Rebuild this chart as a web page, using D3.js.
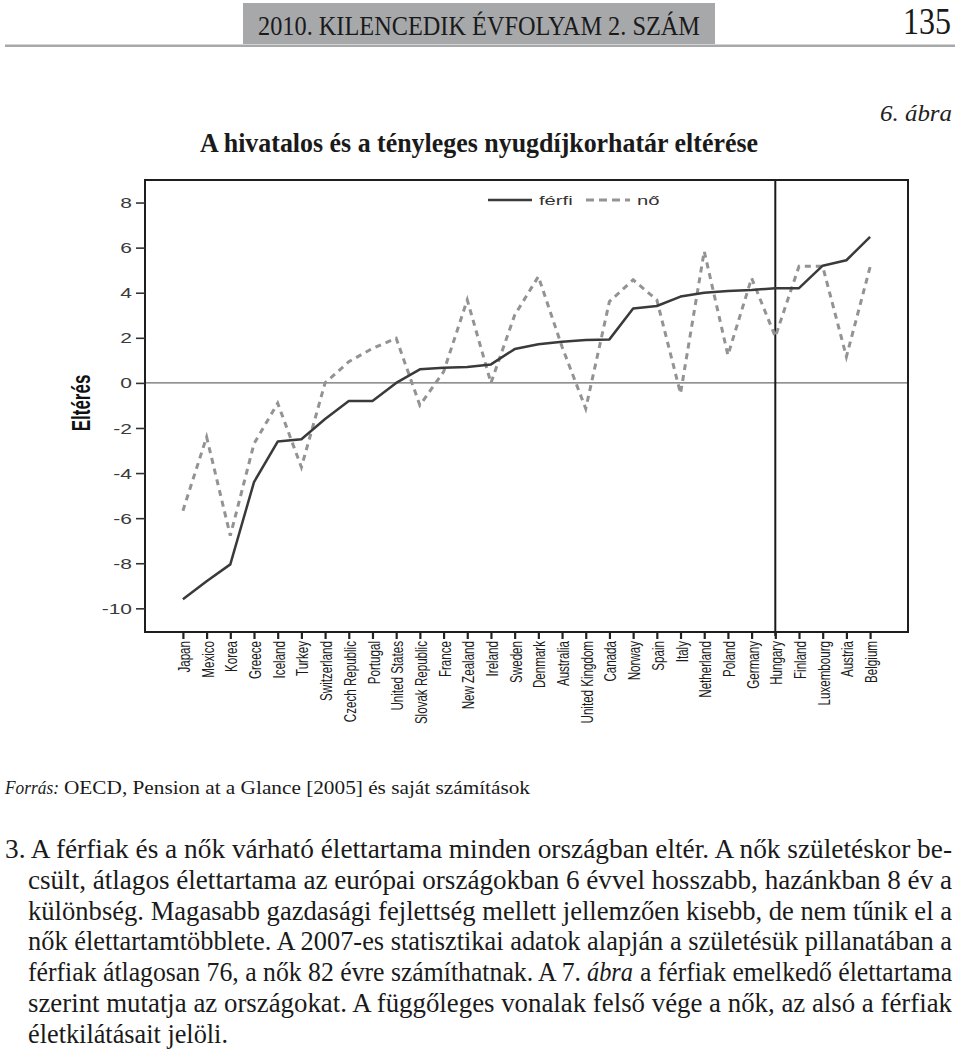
<!DOCTYPE html>
<html>
<head>
<meta charset="utf-8">
<script src="https://cdn.jsdelivr.net/npm/d3@7/dist/d3.min.js"></script>
<style>
html,body{margin:0;padding:0;background:#fff;}
svg{display:block;}
.serif{font-family:"Liberation Serif","Times New Roman",Times,serif;}
.sans{font-family:"Liberation Sans",Arial,Helvetica,sans-serif;}
</style>
</head>
<body>
<svg id="page" width="960" height="1049"></svg>
<script>
// ---- data ----
const countries = ["Japan","Mexico","Korea","Greece","Iceland","Turkey","Switzerland","Czech Republic","Portugal","United States","Slovak Republic","France","New Zealand","Ireland","Sweden","Denmark","Australia","United Kingdom","Canada","Norway","Spain","Italy","Netherland","Poland","Germany","Hungary","Finland","Luxembourg","Austria","Belgium"];
const ferfi = [-9.6,-8.8,-8.05,-4.4,-2.6,-2.5,-1.6,-0.8,-0.8,0.0,0.6,0.67,0.7,0.82,1.5,1.71,1.83,1.9,1.93,3.3,3.41,3.83,4.0,4.08,4.12,4.2,4.2,5.2,5.44,6.48];
const no = [-5.67,-2.4,-6.78,-2.7,-0.9,-3.74,0.0,0.94,1.53,1.98,-0.99,0.49,3.68,0.0,3.0,4.72,1.6,-1.14,3.61,4.57,3.68,-0.47,5.84,1.23,4.65,2.05,5.17,5.17,1.16,5.14];
const yTicks = [-10,-8,-6,-4,-2,0,2,4,6,8];
const seriesNames = ["férfi","nő"];
const highlight = "Hungary";
const headerText = "2010. KILENCEDIK ÉVFOLYAM 2. SZÁM";
const pageNumber = "135";
const figureLabel = "6. ábra";
const chartTitle = "A hivatalos és a tényleges nyugdíjkorhatár eltérése";
const yAxisLabel = "Eltérés";
const sourceItalic = "Forrás:";
const sourceText = "OECD, Pension at a Glance [2005] és saját számítások";
const paragraph = [
  "3. A férfiak és a nők várható élettartama minden országban eltér. A nők születéskor be-",
  "csült, átlagos élettartama az európai országokban 6 évvel hosszabb, hazánkban 8 év a",
  "különbség. Magasabb gazdasági fejlettség mellett jellemzően kisebb, de nem tűnik el a",
  "nők élettartamtöbblete. A 2007-es statisztikai adatok alapján a születésük pillanatában a",
  ["férfiak átlagosan 76, a nők 82 évre számíthatnak. A 7.", "ábra", "a férfiak emelkedő élettartama"],
  "szerint mutatja az országokat. A függőleges vonalak felső vége a nők, az alsó a férfiak",
  "életkilátásait jelöli."
];

const svg = d3.select("#page");

// ---- page header ----
svg.append("rect").attr("x",243).attr("y",3).attr("width",472).attr("height",41).attr("fill","#a7a8aa");
svg.append("rect").attr("x",5).attr("y",44.5).attr("width",950).attr("height",2.5).attr("fill","#a7a8aa");
svg.append("text").attr("class","serif").attr("x",258).attr("y",35).attr("font-size",28)
  .attr("textLength",442).attr("lengthAdjust","spacingAndGlyphs").attr("fill","#1a1a1a").text(headerText);
svg.append("text").attr("class","serif").attr("x",903).attr("y",34).attr("font-size",37)
  .attr("textLength",48).attr("lengthAdjust","spacingAndGlyphs").attr("fill","#1a1a1a").text(pageNumber);

svg.append("text").attr("class","serif").attr("x",952).attr("y",121).attr("text-anchor","end")
  .attr("font-style","italic").attr("font-size",24).attr("textLength",72).attr("lengthAdjust","spacingAndGlyphs")
  .attr("fill","#222").text(figureLabel);
svg.append("text").attr("class","serif").attr("x",200).attr("y",152).attr("font-weight","bold")
  .attr("font-size",27).attr("textLength",558).attr("lengthAdjust","spacingAndGlyphs").attr("fill","#1a1a1a").text(chartTitle);

// ---- chart ----
const L = 145, R = 908, T = 180, B = 632;
const x = d3.scalePoint().domain(countries).range([L, R]).padding(1.6);
const y = d3.scaleLinear().domain([-11.05, 9.0]).range([B, T]);

const g = svg.append("g");

// zero line
g.append("line").attr("x1",L).attr("x2",R).attr("y1",y(0)).attr("y2",y(0))
  .attr("stroke","#6d6d6d").attr("stroke-width",1.3);

// highlight vertical
g.append("line").attr("x1",x(highlight)).attr("x2",x(highlight)).attr("y1",T).attr("y2",B+4)
  .attr("stroke","#1a1a1a").attr("stroke-width",2);

// lines
const line = (vals) => d3.line().x((d,i)=>x(countries[i])).y(d=>y(d))(vals);
g.append("path").attr("d",line(no)).attr("fill","none").attr("stroke","#939393")
  .attr("stroke-width",3).attr("stroke-dasharray","6,5");
g.append("path").attr("d",line(ferfi)).attr("fill","none").attr("stroke","#3a3a3a")
  .attr("stroke-width",2.5).attr("stroke-linejoin","round");

// frame
g.append("rect").attr("x",L).attr("y",T).attr("width",R-L).attr("height",B-T)
  .attr("fill","none").attr("stroke","#1e1e1e").attr("stroke-width",2);

// y axis
const yAxis = g.append("g").attr("transform",`translate(${L},0)`)
  .call(d3.axisLeft(y).tickValues(yTicks).tickSize(9).tickFormat(d3.format("d")));
yAxis.select(".domain").remove();
yAxis.selectAll(".tick line").attr("stroke","#333").attr("stroke-width",1.6);
yAxis.selectAll(".tick text").attr("x",0).attr("dy","0.36em").attr("class","sans")
  .attr("transform","translate(-13,0) scale(1.5,1)")
  .attr("font-size",14).attr("fill","#3a3a3a")
  .text(d => d < 0 ? "-" + Math.abs(d) : d);

// x axis
const xAxis = g.append("g").attr("transform",`translate(0,${B})`)
  .call(d3.axisBottom(x).tickSize(7).tickFormat(""));
xAxis.select(".domain").remove();
xAxis.selectAll(".tick line").attr("stroke","#222").attr("stroke-width",2.2);
g.append("g").selectAll("text").data(countries).join("text").attr("class","sans")
  .attr("transform", d => `translate(${x(d)+1},${B+9}) rotate(-90) scale(1,1.45)`)
  .attr("text-anchor","end").attr("dy","0.36em")
  .attr("font-size",11.6).attr("fill","#1a1a1a")
  .text(d => d);

// y label
svg.append("text").attr("class","sans").attr("transform","translate(81,403) rotate(-90) scale(1,1.5)")
  .attr("text-anchor","middle").attr("dy","0.36em")
  .attr("font-weight","bold").attr("font-size",17).attr("fill","#111")
  .text(yAxisLabel);

// legend
const lg = g.append("g");
lg.append("line").attr("x1",488).attr("x2",532).attr("y1",200).attr("y2",200)
  .attr("stroke","#3a3a3a").attr("stroke-width",2.5);
lg.append("text").attr("class","sans").attr("transform","translate(539,200) scale(1.5,1)").attr("dy","0.36em")
  .attr("font-size",13.5).attr("fill","#333").text(seriesNames[0]);
lg.append("line").attr("x1",586).attr("x2",630).attr("y1",200).attr("y2",200)
  .attr("stroke","#939393").attr("stroke-width",3).attr("stroke-dasharray","8,5");
lg.append("text").attr("class","sans").attr("transform","translate(637,200) scale(1.5,1)").attr("dy","0.36em")
  .attr("font-size",13.5).attr("fill","#333").text(seriesNames[1]);

// ---- source ----
svg.append("text").attr("class","serif").attr("transform","translate(5,794) scale(1,1.1)")
  .attr("font-size",18).attr("font-style","italic")
  .attr("textLength",54).attr("lengthAdjust","spacingAndGlyphs").attr("fill","#1a1a1a").text(sourceItalic);
svg.append("text").attr("class","serif").attr("transform","translate(64,794) scale(1,1.1)")
  .attr("font-size",18)
  .attr("textLength",466).attr("lengthAdjust","spacingAndGlyphs").attr("fill","#1a1a1a").text(sourceText);

// ---- paragraph ----
const lineStarts = [5,28,28,28,28,28,28];
const lineEnds = [952,952,952,952,952,952,228];
const drawPiece = (t, x0, x1, yb, italic) => {
  svg.append("text").attr("class","serif")
    .attr("transform",`translate(${x0},${yb}) scale(1,1.17)`)
    .attr("font-size",23.5).attr("fill","#1a1a1a")
    .attr("font-style", italic ? "italic" : null)
    .attr("textLength",x1-x0).attr("lengthAdjust","spacingAndGlyphs")
    .text(t);
};
paragraph.forEach((t,i) => {
  const yb = 858 + i*30.8;
  if (Array.isArray(t)) {
    drawPiece(t[0], 28, 581, yb, false);
    drawPiece(t[1], 587, 633, yb, true);
    drawPiece(t[2], 640, 952, yb, false);
  } else {
    drawPiece(t, lineStarts[i], lineEnds[i], yb, false);
  }
});
</script>
</body>
</html>
